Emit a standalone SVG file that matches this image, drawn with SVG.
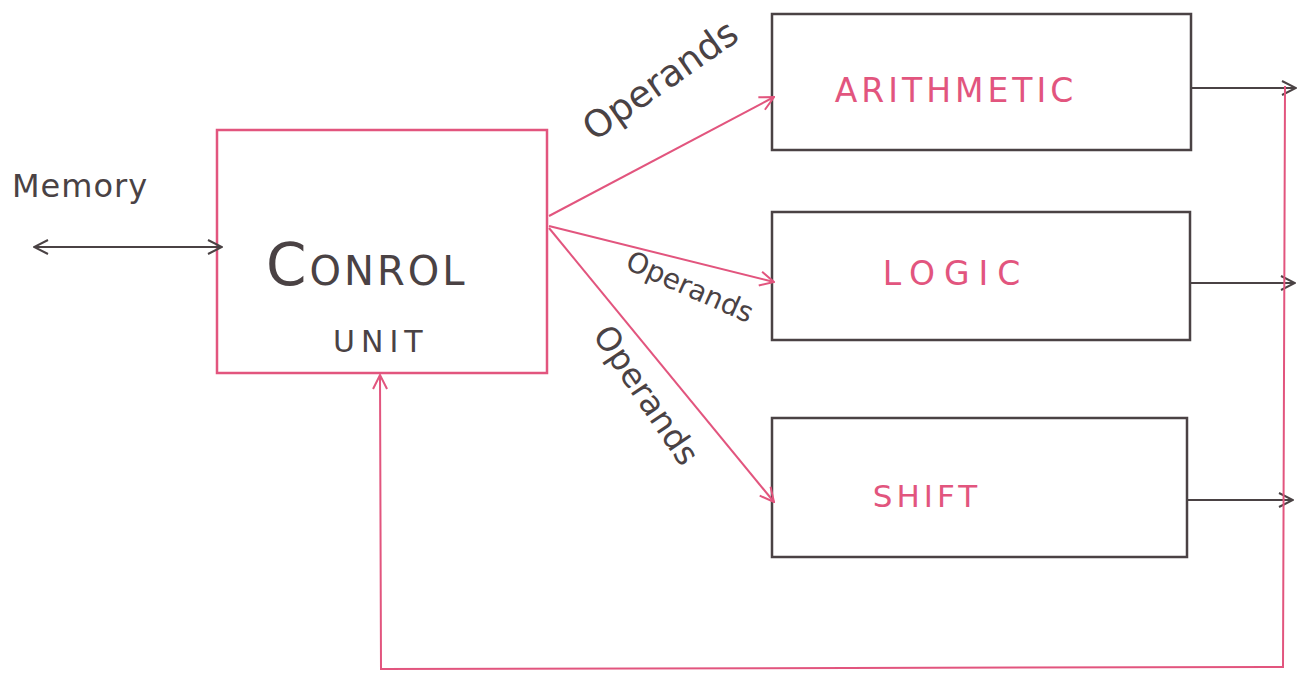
<svg xmlns="http://www.w3.org/2000/svg" width="1301" height="675" viewBox="0 0 1301 675">
<style>
.box{fill:none;stroke:#4a4244;stroke-width:2.5}
.pbox{fill:none;stroke:#e2557e;stroke-width:2.5}
.dk{fill:none;stroke:#4a4244;stroke-width:2}
.pk{fill:none;stroke:#e2557e;stroke-width:2}
.t{font-family:"DejaVu Sans","Liberation Sans",sans-serif;fill:#4a4244}
.tp{font-family:"DejaVu Sans","Liberation Sans",sans-serif;fill:#e2557e}
</style>
<defs>
<marker id="ad" viewBox="0 0 16 16" refX="15" refY="8" markerWidth="16" markerHeight="16" markerUnits="userSpaceOnUse" orient="auto-start-reverse"><path d="M1,1 L15,8 L1,15" fill="none" stroke="#4a4244" stroke-width="2"/></marker>
<marker id="ap" viewBox="0 0 16 16" refX="15" refY="8" markerWidth="16" markerHeight="16" markerUnits="userSpaceOnUse" orient="auto"><path d="M1,1 L15,8 L1,15" fill="none" stroke="#e2557e" stroke-width="2"/></marker>
</defs>
<rect width="1301" height="675" fill="#fff"/>
<g id="control">
<rect class="pbox" x="217" y="130" width="330" height="243"/>
<text class="t" x="266" y="285" font-size="58" letter-spacing="3">C<tspan font-size="40">ONROL</tspan></text>
<text class="t" x="333" y="352" font-size="30" letter-spacing="6">UNIT</text>
</g>
<g id="memory">
<text class="t" x="12" y="197" font-size="32" letter-spacing="1">Memory</text>
</g>
<g id="arithmetic">
<rect class="box" x="772" y="14" width="419" height="136"/>
<text class="tp" x="956" y="102" font-size="33" letter-spacing="4" text-anchor="middle">ARITHMETIC</text>
</g>
<g id="logic">
<rect class="box" x="772" y="212" width="418" height="128"/>
<text class="tp" x="956" y="285" font-size="33" letter-spacing="9" text-anchor="middle">LOGIC</text>
</g>
<g id="shift">
<rect class="box" x="772" y="418" width="415" height="139"/>
<text class="tp" x="927" y="507" font-size="31" letter-spacing="4" text-anchor="middle">SHIFT</text>
</g>
<g id="connectors">
<line class="dk" x1="34" y1="247" x2="222" y2="247" marker-start="url(#ad)" marker-end="url(#ad)"/>
<line class="pk" x1="549" y1="216" x2="774" y2="97" marker-end="url(#ap)"/>
<line class="pk" x1="549" y1="226" x2="774" y2="282" marker-end="url(#ap)"/>
<line class="pk" x1="549" y1="228" x2="774" y2="502" marker-end="url(#ap)"/>
<line class="dk" x1="1191" y1="88" x2="1296" y2="88" marker-end="url(#ad)"/>
<line class="dk" x1="1190" y1="283" x2="1295" y2="283" marker-end="url(#ad)"/>
<line class="dk" x1="1187" y1="500" x2="1293" y2="500" marker-end="url(#ad)"/>
<polyline class="pk" points="1285,86 1283,667 381,669 380,375" marker-end="url(#ap)"/>
<text class="t" font-size="37" transform="translate(594,142) rotate(-35)">Operands</text>
<text class="t" font-size="28" transform="translate(624,268) rotate(24)">Operands</text>
<text class="t" font-size="33" transform="translate(592,335) rotate(56)">Operands</text>
</g>
</svg>
